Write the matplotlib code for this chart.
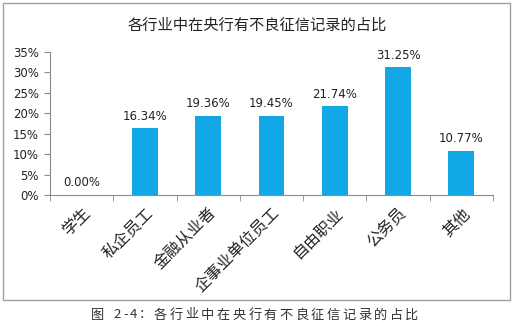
import matplotlib
matplotlib.use("Agg")
import matplotlib.pyplot as plt
from matplotlib.patches import Rectangle
from matplotlib.ticker import FuncFormatter, FixedLocator

plt.rcParams['font.family'] = ['Noto Sans CJK SC', 'DejaVu Sans']

categories = ['学生', '私企员工', '金融从业者', '企事业单位员工', '自由职业', '公务员', '其他']
values = [0.00, 16.34, 19.36, 19.45, 21.74, 31.25, 10.77]
yticks = [0, 5, 10, 15, 20, 25, 30, 35]
title = '各行业中在央行有不良征信记录的占比'
caption = '图 2-4：各行业中在央行有不良征信记录的占比'

bar_color = '#12A8E6'
grey = '#8C8C8C'
txt = '#222222'

W, H = 514, 326
fig = plt.figure(figsize=(W / 100, H / 100), dpi=100)
fig.patch.set_facecolor('white')

# outer chart frame
fig.patches.append(Rectangle((3 / W, 1 - 300 / H), 507 / W, 297 / H, transform=fig.transFigure,
                             fill=False, edgecolor='#A0A0A0', linewidth=1.0))

ax = fig.add_axes([50 / W, 1 - 195 / H, 443 / W, 143 / H])
x = list(range(len(categories)))
ax.bar(x, values, width=0.41, color=bar_color)
ax.set_xlim(-0.5, len(categories) - 0.5)
ax.set_ylim(0, 35)
ax.yaxis.set_major_locator(FixedLocator(yticks))
ax.yaxis.set_major_formatter(FuncFormatter(lambda v, p: f'{int(v)}%'))

for s in ['top', 'right']:
    ax.spines[s].set_visible(False)
for s in ['left', 'bottom']:
    ax.spines[s].set_color(grey)
    ax.spines[s].set_linewidth(0.8)

ax.tick_params(axis='y', direction='out', length=4, color=grey, pad=4)
for lab in ax.get_yticklabels():
    lab.set_fontfamily('DejaVu Sans')
    lab.set_fontsize(8.5)
    lab.set_color(txt)

ax.set_xticks(x)
ax.set_xticklabels(categories, rotation=45, ha='right', va='top', rotation_mode='anchor',
                   fontsize=11.5, color=txt)
ax.tick_params(axis='x', which='major', length=0, pad=7)
ax.set_xticks([i - 0.5 for i in range(len(categories) + 1)], minor=True)
ax.tick_params(axis='x', which='minor', direction='out', length=4, color=grey)

for xi, v in zip(x, values):
    ax.annotate(f'{v:.2f}%', (xi, v), xytext=(0, 4), textcoords='offset points',
                ha='center', va='bottom', fontsize=8.5, color=txt, family='DejaVu Sans')

fig.text(0.5, 1 - 25 / H, title, ha='center', va='center', fontsize=11, color=txt)

# caption with wide letter spacing
pitch = 15.7
cx = 90.0
for ch in caption:
    w = pitch if ord(ch) > 0x2000 else pitch / 2
    fig.text((cx + w / 2) / W, 1 - 315 / H, ch, ha='center', va='center',
             fontsize=9.5, color='#333333')
    cx += w

fig.savefig('out.png', dpi=100)
